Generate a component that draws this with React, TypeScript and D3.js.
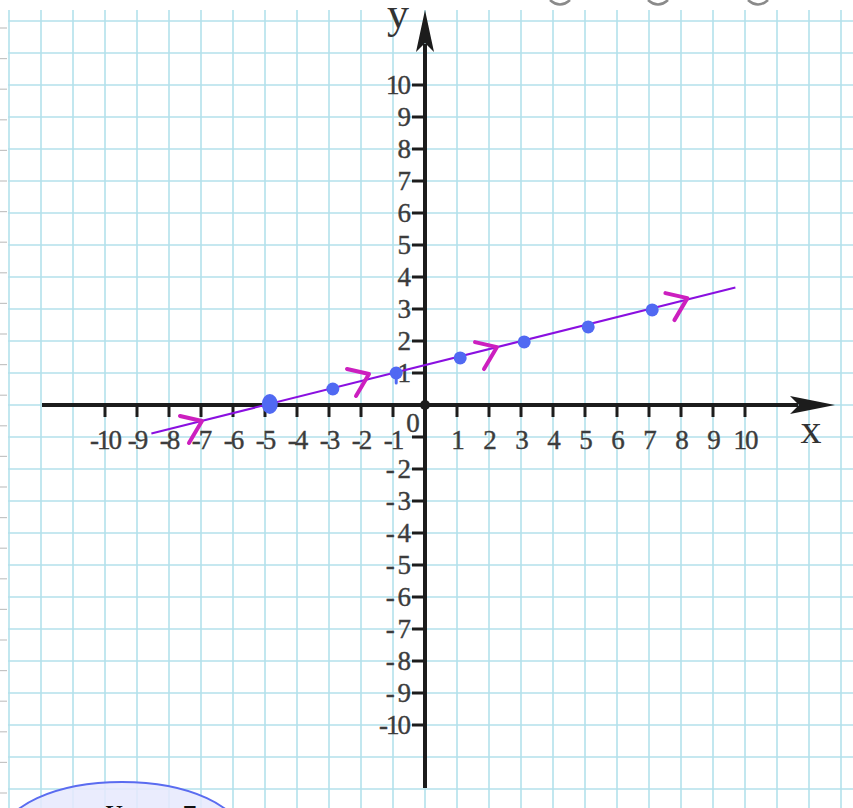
import React from 'react';
import * as d3 from 'd3';

// graph-paper plot: points on y = (x + 5) / 4 with direction chevrons
const tickValues = [-10, -9, -8, -7, -6, -5, -4, -3, -2, -1, 1, 2, 3, 4, 5, 6, 7, 8, 9, 10];
const xTickLabels = ['-10', '-9', '-8', '-7', '-6', '-5', '-4', '-3', '-2', '-1', '1', '2', '3', '4', '5', '6', '7', '8', '9', '10'];
const yTickLabels = ['-10', '- 9', '- 8', '- 7', '- 6', '- 5', '- 4', '- 3', '- 2', '- 1', '1', '2', '3', '4', '5', '6', '7', '8', '9', '10'];

// hand-placed dots
const pointX = [-4.85, -2.88, -0.9, 1.1, 3.1, 5.1, 7.1];
const pointY = [0.03, 0.5, 1.0, 1.47, 1.97, 2.44, 2.97];

const lineX = [-8.55, 9.7];
const lineY = [-0.89, 3.67];

const chevronX = [-6.97, -1.75, 2.25, 8.2];
const chevronY = [-0.5, 0.97, 1.81, 3.34];

const W = 853;
const H = 808;

const GRID = '#b3e1eb';
const INK = '#1c1c1c';
const LABEL = '#3c3c3c';
const FONT = '"Liberation Serif", "DejaVu Serif", serif';

export default function App() {
  const x = d3.scaleLinear().domain([-10, 10]).range([105, 745]);
  const y = d3.scaleLinear().domain([-10, 10]).range([725, 85]);
  const x0 = x(0);
  const y0 = y(0);

  const gridCols = d3.range(-13, 14).map(v => x(v));
  const gridRows = d3.range(-12, 13).map(v => y(v));
  const marginDashes = d3.range(28, H, 30.6);

  const line = d3.line<number>()
    .x(d => x(lineX[d]))
    .y(d => y(lineY[d]));

  const chevron = (i: number) => {
    const cx = x(chevronX[i]);
    const cy = y(chevronY[i]);
    return `M${cx - 22},${cy - 5} L${cx},${cy} L${cx - 13},${cy + 22}`;
  };

  return (
    <svg width={W} height={H} style={{ position: 'absolute', left: 0, top: 0, display: 'block', background: '#fff' }}>
      {/* paper */}
      <rect x={0} y={0} width={W} height={H} fill="#fff" />
      {marginDashes.map((d, i) => (
        <line key={`m${i}`} x1={0} x2={7} y1={d} y2={d} stroke="#c4c4c4" strokeWidth={1.2} />
      ))}
      {gridCols.map((gx, i) => (
        <line key={`gc${i}`} x1={gx} x2={gx} y1={10} y2={H} stroke={GRID} strokeWidth={1.6} />
      ))}
      {gridRows.map((gy, i) => (
        <line key={`gr${i}`} x1={8} x2={W} y1={gy} y2={gy} stroke={GRID} strokeWidth={1.6} />
      ))}

      {/* cut-off shapes at the top edge */}
      {[560, 658, 758].map((cx, i) => (
        <path key={`t${i}`} d={`M${cx - 10},0 Q${cx},9 ${cx + 10},0`} fill="none" stroke="#8a8a8a" strokeWidth={2.5} />
      ))}

      {/* axes */}
      <line x1={42} x2={798} y1={y0} y2={y0} stroke={INK} strokeWidth={4} />
      <path d={`M835,${y0} L790,${y0 - 9} L799,${y0} L790,${y0 + 9} Z`} fill={INK} />
      <line x1={x0} x2={x0} y1={788} y2={44} stroke={INK} strokeWidth={4} />
      <path d={`M${x0},10 L${x0 - 9},52 L${x0},43 L${x0 + 9},52 Z`} fill={INK} />

      {tickValues.map(v => (
        <line key={`xt${v}`} x1={x(v)} x2={x(v)} y1={y0} y2={y0 + 12} stroke={INK} strokeWidth={3} />
      ))}
      {tickValues.map(v => (
        <line key={`yt${v}`} x1={x0 - 13} x2={x0} y1={y(v)} y2={y(v)} stroke={INK} strokeWidth={3} />
      ))}

      <g fontFamily={FONT} fontSize={27} fill={LABEL} stroke={LABEL} strokeWidth={0.4} letterSpacing={-2}>
        {tickValues.map((v, i) => (
          <text key={`xl${v}`} x={x(v)} y={449} textAnchor="middle">{xTickLabels[i]}</text>
        ))}
        {tickValues.map((v, i) => (v === -1 ? null : (
          <text key={`yl${v}`} x={x0 - 16} y={y(v) + 9} textAnchor="end">{yTickLabels[i]}</text>
        )))}
        <text x={412} y={432} textAnchor="middle">0</text>
      </g>

      <text x={398} y={28} textAnchor="middle" fontFamily={FONT} fontSize={44} fill="#333">y</text>
      <text x={811} y={443} textAnchor="middle" fontFamily={FONT} fontSize={42} fill="#333">x</text>

      <circle cx={x0} cy={y0} r={5} fill={INK} />

      {/* hand-drawn line, points and arrows */}
      <path d={line([0, 1]) || ''} fill="none" stroke="#8a10e0" strokeWidth={2} />
      {pointX.map((px, i) => (
        <ellipse key={`p${i}`} cx={x(px)} cy={y(pointY[i])} rx={i === 0 ? 8 : 6.5} ry={i === 0 ? 10 : 6.5} fill="#5069f2" />
      ))}
      <line x1={x(pointX[2])} x2={x(pointX[2])} y1={y(pointY[2])} y2={y(pointY[2]) + 10} stroke="#5069f2" strokeWidth={3} strokeLinecap="round" />
      {chevronX.map((_, i) => (
        <path key={`c${i}`} d={chevron(i)} fill="none" stroke="#cc1fbf" strokeWidth={4} strokeLinecap="round" strokeLinejoin="round" />
      ))}

      {/* bubble peeking in at the bottom */}
      <ellipse cx={122} cy={837} rx={120} ry={55} fill="#e6e9fd" fillOpacity={0.85} stroke="#5a6cf0" strokeWidth={2} />
      <text x={114} y={822} textAnchor="middle" fontFamily={FONT} fontSize={34} fill="#111">y</text>
      <text x={190} y={828} textAnchor="middle" fontFamily={FONT} fontSize={34} fill="#111">5</text>
    </svg>
  );
}
